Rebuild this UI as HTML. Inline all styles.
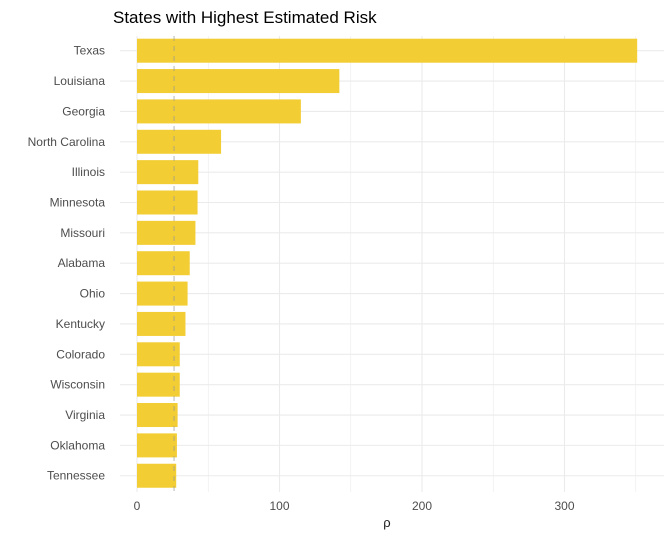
<!DOCTYPE html>
<html><head><meta charset="utf-8"><style>
body{margin:0;background:#fff;font-family:"Liberation Sans",sans-serif}
</style></head><body>
<svg id="c" width="672" height="537" style="display:block">
<text x="113" y="23" font-size="17" fill="#000">States with Highest Estimated Risk</text>
<g id="grid"></g><g id="bars"></g><g id="labels"></g>
<text x="387" y="527" font-size="13" fill="#222" text-anchor="middle">ρ</text>
</svg>
<script>
const states=["Texas","Louisiana","Georgia","North Carolina","Illinois","Minnesota","Missouri","Alabama","Ohio","Kentucky","Colorado","Wisconsin","Virginia","Oklahoma","Tennessee"];
const values=[351,142,115,59,43,42.5,41,37,35.5,34,30,30,28.5,28,27.5];
const xTicks=[0,100,200,300];
const refValue=26;
const NS="http://www.w3.org/2000/svg";
const x=v=>137+v*1.425;
const y=i=>50.7+i*30.36;
const L=120,R=664,T=36,B=492;
function mk(tag,attrs,parent){const e=document.createElementNS(NS,tag);for(const k in attrs)e.setAttribute(k,attrs[k]);document.getElementById(parent).appendChild(e);return e;}
for(let v=0;v<=350;v+=50){
  const e=mk("line",{x1:x(v),x2:x(v),y1:T,y2:B,stroke:"#ebebeb","stroke-width":v%100===0?1.1:0.6},"grid");
  
  
}
states.forEach((s,i)=>{
  const g=mk("line",{x1:L,x2:R,y1:y(i),y2:y(i),stroke:"#ebebeb","stroke-width":1.1},"grid");
  
  
  const r=mk("rect",{x:x(0),y:y(i)-12,width:x(values[i])-x(0),height:24,fill:"#F2CD33"},"bars");
  
  
  const t=mk("text",{x:105,y:y(i)+4,"font-size":12,fill:"#4d4d4d","text-anchor":"end"},"labels");
  t.textContent=s;
  
  
});
xTicks.forEach(v=>{
  const t=mk("text",{x:x(v),y:510,"font-size":12,fill:"#4d4d4d","text-anchor":"middle"},"labels");
  t.textContent=v;
  
  
});
const d=mk("line",{x1:x(refValue),x2:x(refValue),y1:T,y2:B,stroke:"#999","stroke-width":1,"stroke-dasharray":"5,5","stroke-opacity":0.7},"bars");


</script>
</body></html>
